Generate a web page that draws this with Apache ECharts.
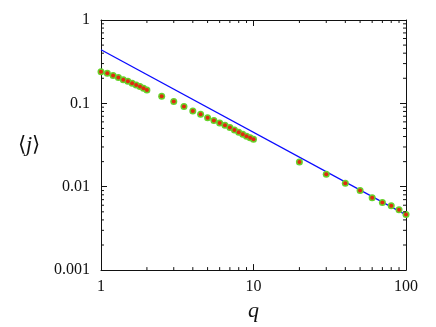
<!DOCTYPE html>
<html>
<head>
<meta charset="utf-8">
<script src="https://cdn.jsdelivr.net/npm/echarts@6/dist/echarts.min.js"></script>
<style>html,body{margin:0;padding:0;background:#fff}#c{width:436px;height:327px}</style>
</head>
<body>
<div id="c"></div>
<script>
var qValues = [1.0,1.1,1.2,1.3,1.4,1.5,1.6,1.7,1.8,1.9,2.0,
  2.5,3.0,3.5,4.0,4.5,5.0,5.5,6.0,6.5,7.0,7.5,8.0,8.5,9.0,9.5,10,
  20,30,40,50,60,70,80,90,100];
var jValues = [0.239,0.229,0.216,0.205,0.192,0.184,0.174,0.166,0.159,0.152,0.145,
  0.122,0.105,0.092,0.081,0.074,0.067,0.0625,0.058,0.0545,0.0512,0.048,0.045,0.0427,0.0404,0.0386,0.0372,
  0.0198,0.0141,0.0110,0.0090,0.00736,0.00646,0.0059,0.0053,0.00464];
var fitX = [1, 100];
var fitY = [0.44, 0.0046];
var xTickLabels = ['1','10','100'];
var yTickLabels = ['0.001','0.01','0.1','1'];
var xMinorTicks = [2,3,4,5,6,7,8,9,20,30,40,50,60,70,80,90];
var yMinorTicks = [0.002,0.003,0.004,0.005,0.006,0.007,0.008,0.009,
  0.02,0.03,0.04,0.05,0.06,0.07,0.08,0.09,0.2,0.3,0.4,0.5,0.6,0.7,0.8,0.9];

var pts = qValues.map(function(q,i){return [q, jValues[i]];});
var fit = fitX.map(function(x,i){return [x, fitY[i]];});
var serif = 'Liberation Serif';
var chart = echarts.init(document.getElementById('c'));
function fmt(v){
  return String(+v.toPrecision(3));
}
var axisLine = {show:true, onZero:false, lineStyle:{color:'#111', width:1}};
var tick = {show:true, inside:true, length:6, lineStyle:{color:'#111', width:1}};
chart.setOption({
  animation:false,
  textStyle:{fontFamily:serif},
  grid:{left:101, right:30, top:20, bottom:53, containLabel:false},
  xAxis:[{
    type:'log', logBase:10, min:1, max:100, position:'bottom',
    axisLine:axisLine, axisTick:tick, splitLine:{show:false},
    axisLabel:{margin:9, color:'#111', fontFamily:serif, fontSize:16, formatter:function(v){return fmt(v);}},
    name:'q', nameLocation:'middle', nameGap:24,
    nameTextStyle:{fontFamily:serif, fontStyle:'italic', fontSize:22, color:'#111'}
  },{
    type:'log', logBase:10, min:1, max:100, position:'top',
    axisLine:axisLine, axisTick:tick, splitLine:{show:false}, axisLabel:{show:false}
  }],
  yAxis:[{
    type:'log', logBase:10, min:0.001, max:1, position:'left',
    axisLine:axisLine, axisTick:tick, splitLine:{show:false},
    axisLabel:{margin:11, color:'#111', fontFamily:serif, fontSize:16, formatter:function(v){return fmt(v);}},
    name:'⟨{i|j}⟩', nameLocation:'middle', nameGap:61, nameRotate:0,
    nameTextStyle:{fontFamily:serif, fontSize:21, color:'#111', align:'right',
      rich:{i:{fontFamily:serif, fontStyle:'italic', fontSize:22, color:'#111'}}}
  },{
    type:'log', logBase:10, min:0.001, max:1, position:'right',
    axisLine:axisLine, axisTick:tick, splitLine:{show:false}, axisLabel:{show:false}
  }],
  series:[
    {type:'line', data:fit, showSymbol:false, symbol:'none', lineStyle:{color:'#0a0aff', width:1.3}, z:2},
    {type:'scatter', data:pts, symbol:'circle', symbolSize:7, itemStyle:{color:'#66d22a', opacity:1}, z:3},
    {type:'scatter', data:pts, symbol:'circle', symbolSize:4, itemStyle:{color:'#e02a10', opacity:1}, z:4},
    {type:'custom', data:xMinorTicks.map(function(v){return [v,0.01];}), z:5, silent:true,
      renderItem:function(params, api){
        var x = api.value(0);
        var b = api.coord([x, 0.001]), t = api.coord([x, 1]);
        return {type:'group', children:[
          {type:'line', shape:{x1:b[0],y1:b[1],x2:b[0],y2:b[1]-3}, style:{stroke:'#111', lineWidth:1}},
          {type:'line', shape:{x1:t[0],y1:t[1],x2:t[0],y2:t[1]+3}, style:{stroke:'#111', lineWidth:1}}
        ]};
      }},
    {type:'custom', data:yMinorTicks.map(function(v){return [10,v];}), z:5, silent:true,
      encode:{x:0,y:1},
      renderItem:function(params, api){
        var y = api.value(1);
        var l = api.coord([1, y]), r = api.coord([100, y]);
        return {type:'group', children:[
          {type:'line', shape:{x1:l[0],y1:l[1],x2:l[0]+3,y2:l[1]}, style:{stroke:'#111', lineWidth:1}},
          {type:'line', shape:{x1:r[0],y1:r[1],x2:r[0]-3,y2:r[1]}, style:{stroke:'#111', lineWidth:1}}
        ]};
      }}
  ]
});
</script>
</body>
</html>
